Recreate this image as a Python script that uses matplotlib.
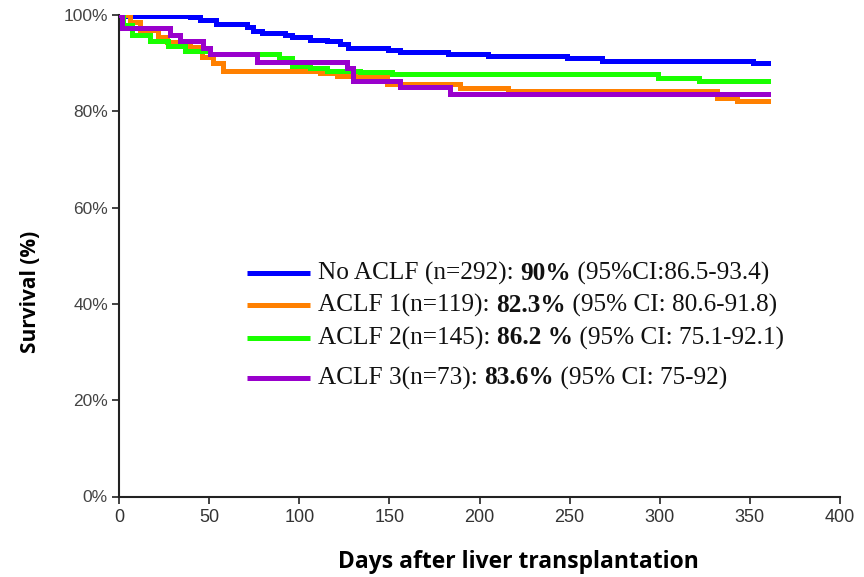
import matplotlib
matplotlib.use("Agg")
import matplotlib.pyplot as plt
from matplotlib.lines import Line2D

# ---- data (days, survival %) ----
no_aclf_t = [0, 1, 39.4, 45, 54, 71, 74.3, 79.3, 92, 96, 106, 115.4, 122.6, 127, 149, 156, 182.5, 204.7, 248.5, 268, 351.7, 360]
no_aclf_s = [100, 99.7, 99.5, 99.0, 98.2, 97.6, 96.7, 96.2, 95.8, 95.4, 94.9, 94.5, 93.9, 93.2, 92.7, 92.4, 92.0, 91.5, 91.0, 90.5, 90.0, 90.0]

aclf1_t = [0, 6, 11.7, 21.6, 26.6, 39.4, 46, 52, 57.7, 111.5, 121, 148.7, 189, 216, 331.8, 342.9, 360]
aclf1_s = [100, 98.5, 96.9, 95.5, 94.4, 93.4, 91.3, 90.0, 88.4, 87.9, 87.3, 85.6, 84.9, 84.2, 82.8, 82.1, 82.1]

aclf2_t = [0, 2, 7, 17, 27, 36.6, 50.5, 89, 96, 106, 115.4, 133.7, 151.5, 299, 322, 360]
aclf2_s = [100, 97.9, 95.8, 94.5, 93.6, 92.6, 91.8, 91.1, 89.4, 88.9, 88.4, 88.2, 87.7, 87.0, 86.3, 86.3]

aclf3_t = [0, 1.7, 28.3, 33.8, 46.6, 50.5, 76.6, 126.5, 129.8, 156, 183.6, 360]
aclf3_s = [100, 97.2, 95.8, 94.6, 93.2, 91.8, 90.3, 88.9, 86.3, 85.1, 83.5, 83.5]

x_ticks = [0, 50, 100, 150, 200, 250, 300, 350, 400]
y_ticks = [0, 20, 40, 60, 80, 100]
y_tick_labels = ["0%", "20%", "40%", "60%", "80%", "100%"]

legend_names = ["No ACLF (n=292): ", "ACLF 1(n=119): ", "ACLF 2(n=145): ", "ACLF 3(n=73): "]
legend_bold = ["90%", "82.3%", "86.2 %", "83.6%"]
legend_ci = [" (95%CI:86.5-93.4)", " (95% CI: 80.6-91.8)", " (95% CI: 75.1-92.1)", " (95% CI: 75-92)"]

colors = ["#0000FF", "#FF8000", "#19FF00", "#9900CC"]

W, H = 864, 577
fig = plt.figure(figsize=(W / 100, H / 100), dpi=100)
ax = fig.add_axes([119 / W, 1 - 496.5 / H, (840 - 119) / W, (496.5 - 15) / H])

lw = 3.6
series = [(no_aclf_t, no_aclf_s), (aclf1_t, aclf1_s), (aclf2_t, aclf2_s), (aclf3_t, aclf3_s)]
for i in range(4):
    t, s = series[i]
    ax.step(t, s, where="post", color=colors[i], lw=lw, solid_joinstyle="miter", zorder=2 + i)

ax.set_xlim(0, 400)
ax.set_ylim(0, 100)
ax.set_xticks(x_ticks)
ax.set_xticklabels([str(v) for v in x_ticks], family=["Liberation Sans Narrow", "Liberation Sans", "DejaVu Sans"],
                   fontsize=13, color="#333333")
ax.set_yticks(y_ticks)
ax.set_yticklabels(y_tick_labels, family=["Liberation Sans", "DejaVu Sans"], fontsize=12.5, color="#444444")
for sp in ["top", "right"]:
    ax.spines[sp].set_visible(False)
for sp in ["left", "bottom"]:
    ax.spines[sp].set_color("#222222")
    ax.spines[sp].set_linewidth(1.5)
ax.tick_params(axis="both", direction="out", length=5, width=1.2, color="#222222")
ax.tick_params(axis="x", pad=4)
ax.tick_params(axis="y", pad=3)

fig.text(518 / W, 1 - 562 / H, "Days after liver transplantation", ha="center", va="center",
         family=["Open Sans", "DejaVu Sans"], fontweight="bold", fontsize=16.5)
fig.text(30 / W, 1 - 292 / H, "Survival (%)", ha="center", va="center", rotation=90,
         family=["Open Sans", "DejaVu Sans"], fontweight="bold", fontsize=15)

# legend drawn manually
row_y = [273, 305, 338, 378]
fig.canvas.draw()
renderer = fig.canvas.get_renderer()
serif = ["Liberation Serif", "DejaVu Serif"]
fs = 18.2
for i in range(4):
    yy = 1 - row_y[i] / H
    fig.add_artist(Line2D([247 / W, 310 / W], [yy, yy], color=colors[i], lw=lw, solid_capstyle="butt"))
    x = 318
    for txt, wt in [(legend_names[i], "normal"), (legend_bold[i], "bold"), (legend_ci[i], "normal")]:
        tt = fig.text(x / W, yy, txt, ha="left", va="center", family=serif, fontweight=wt, fontsize=fs, color="#111111")
        bb = tt.get_window_extent(renderer=renderer)
        x += bb.width

fig.savefig("out.png", dpi=100)
